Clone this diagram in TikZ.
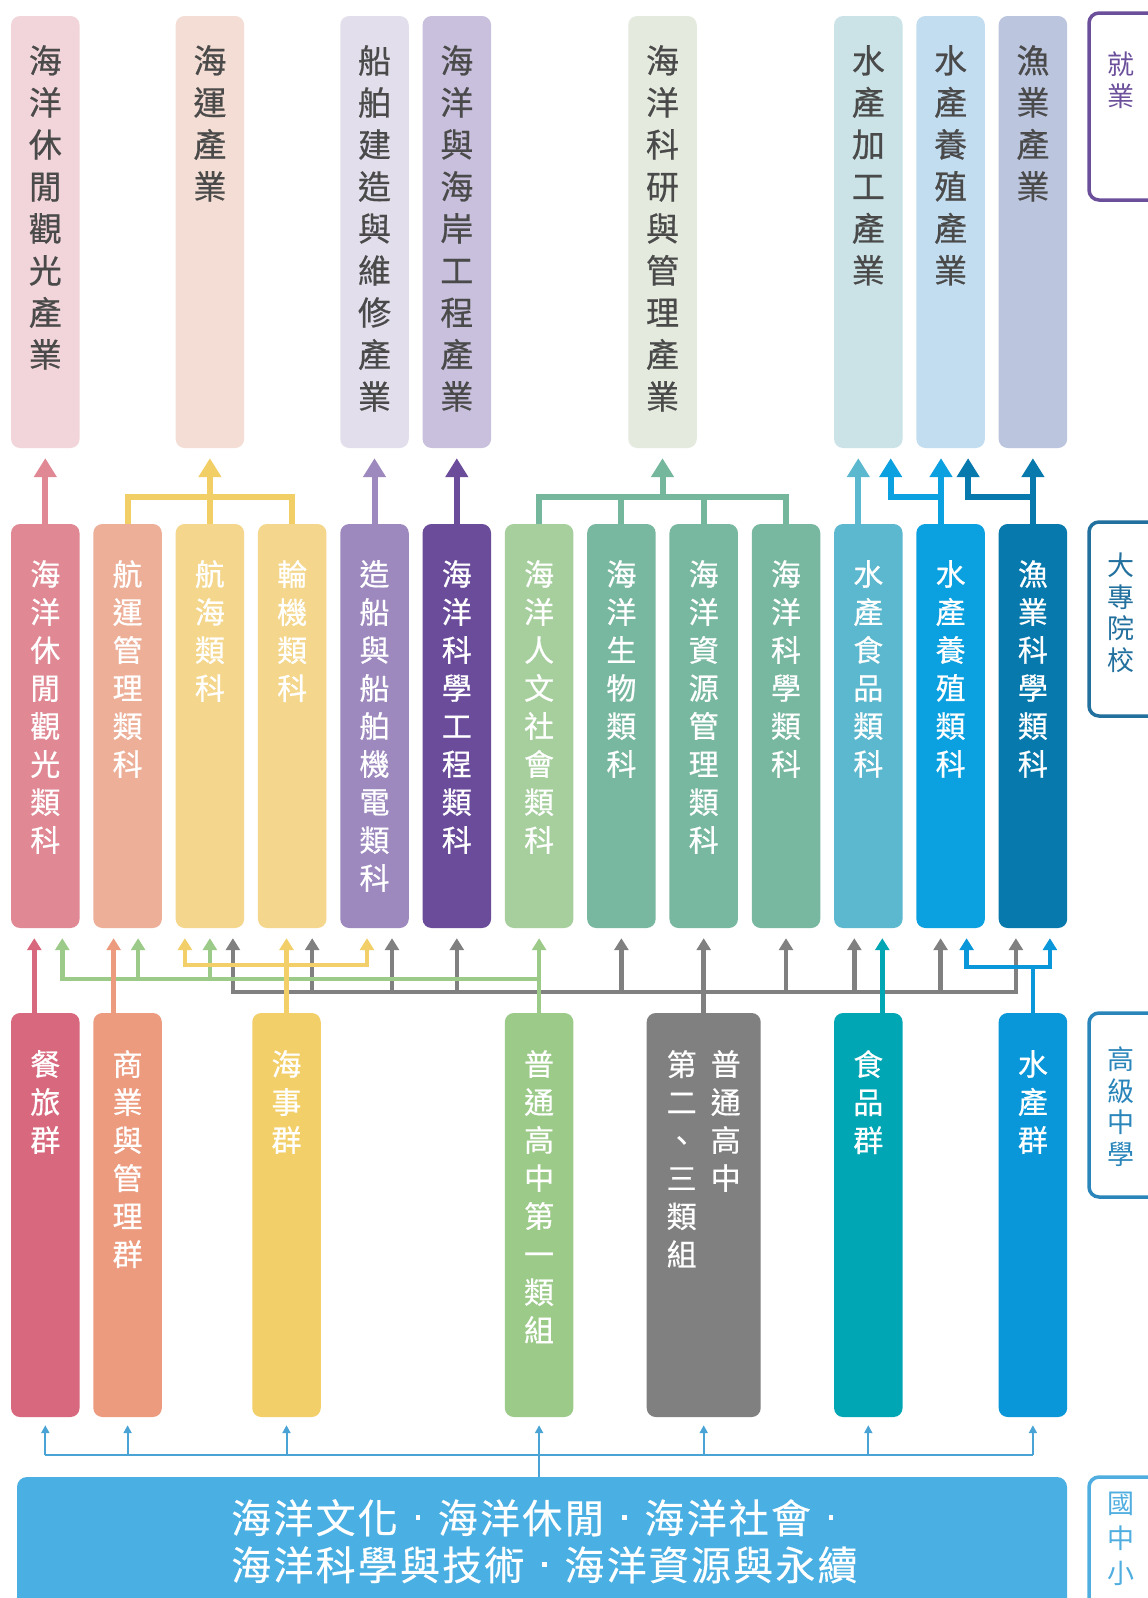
\documentclass[tikz,border=0pt]{standalone}
\usepackage{fontspec}
\newfontfamily\cjk{Noto Sans CJK TC}
\newfontfamily\cjkm[FakeBold=0.6]{Noto Sans CJK TC}
\newfontfamily\cjkw[LetterSpace=5.5,FakeBold=0.3]{Noto Sans CJK TC}
\usetikzlibrary{arrows.meta}
\definecolor{cT1}{HTML}{F2D5DA}
\definecolor{cT2}{HTML}{F4DDD4}
\definecolor{cT3}{HTML}{E3DEEB}
\definecolor{cT4}{HTML}{C8C0DC}
\definecolor{cT5}{HTML}{E4EBDE}
\definecolor{cT6}{HTML}{CBE3E7}
\definecolor{cT7}{HTML}{C3DDF0}
\definecolor{cT8}{HTML}{BBC5DE}
\definecolor{txtgray}{HTML}{4A4A4A}
\definecolor{cM1}{HTML}{E08894}
\definecolor{cM2}{HTML}{EDAF98}
\definecolor{cM3}{HTML}{F4D78C}
\definecolor{cM5}{HTML}{9D89BE}
\definecolor{cM6}{HTML}{6B4C9B}
\definecolor{cM7}{HTML}{A6CF9D}
\definecolor{cM8}{HTML}{78B8A0}
\definecolor{cM11}{HTML}{5CB8CF}
\definecolor{cM12}{HTML}{0BA0DF}
\definecolor{cM13}{HTML}{0779AC}
\definecolor{cB1}{HTML}{D8687D}
\definecolor{cB2}{HTML}{EC9B7F}
\definecolor{cB3}{HTML}{F2CF69}
\definecolor{cB7}{HTML}{9CCA89}
\definecolor{cB9}{HTML}{808080}
\definecolor{cB11}{HTML}{00A6B4}
\definecolor{cB13}{HTML}{0A97D9}
\definecolor{cG}{HTML}{4AAFE2}
\definecolor{cGl}{HTML}{4AA3D5}
\definecolor{yel}{HTML}{F2CF66}
\definecolor{grn}{HTML}{74B79C}
\definecolor{cL1}{HTML}{6B4F9B}
\definecolor{cL2}{HTML}{22709E}
\definecolor{cL3}{HTML}{2A86BA}
\definecolor{cL4}{HTML}{4FAEDF}
\def\vsEnd{}
\long\def\vgobble#1{}
\long\def\vfirst#1{#1}
\def\vs#1{\vsA#1\vsEnd}
\def\vsA#1{#1\vsB}
\def\vsB#1{\ifx#1\vsEnd\expandafter\vgobble\else\expandafter\vfirst\fi{\\#1\vsB}}
\newcommand\mdot{\makebox[1em]{\rule[0.34em]{4.5pt}{4.5pt}}}
\begin{document}
\begin{tikzpicture}[x=1pt,y=-1pt,
  box/.style={rectangle, rounded corners=9pt, minimum width=68.5pt, inner sep=0pt, draw=none},
  topbox/.style={box, minimum height=432pt},
  midbox/.style={box, minimum height=404pt},
  botbox/.style={box, minimum height=404pt},
  vt/.style={inner sep=0pt, align=center, anchor=north},
  toptxt/.style={vt, font=\cjkm\fontsize{33}{42}\selectfont, text=txtgray},
  midtxt/.style={vt, font=\cjkm\fontsize{30}{38}\selectfont, text=white},
  labbox/.style={rectangle, rounded corners=10pt, line width=3.5pt, minimum width=86pt, inner sep=0pt, fill=white},
  labtxt/.style={vt, font=\cjk\fontsize{27}{31.5}\selectfont},
  tline/.style={line width=6pt},
  tarr/.style={line width=6pt, -{Triangle[width=22pt,length=19pt]}, shorten >=10pt},
  bline/.style={line width=4.5pt},
  barr/.style={line width=4.5pt, -{Triangle[width=14pt,length=12pt]}, shorten >=10pt},
  fline/.style={line width=2pt, cGl},
  farr/.style={line width=2pt, cGl, -{Triangle[width=8pt,length=8pt]}, shorten >=8pt}
]
\useasboundingbox (0,0) rectangle (1148,1598);
\clip (0,0) rectangle (1148,1598);
\fill[white] (0,0) rectangle (1148,1598);

% ---- top row (jobs)
\node[topbox, fill=cT1] (T1) at (45.3,232) {};
\node[topbox, fill=cT2] (T2) at (209.9,232) {};
\node[topbox, fill=cT3] (T3) at (374.5,232) {};
\node[topbox, fill=cT4] (T4) at (456.8,232) {};
\node[topbox, fill=cT5] (T5) at (662.5,232) {};
\node[topbox, fill=cT6] (T6) at (868.3,232) {};
\node[topbox, fill=cT7] (T7) at (950.6,232) {};
\node[topbox, fill=cT8] (T8) at (1032.9,232) {};
\node[toptxt] (T1x) at (45.3,45) {\vs{海洋休閒觀光產業}};
\node[toptxt] (T2x) at (209.9,45) {\vs{海運產業}};
\node[toptxt] (T3x) at (374.5,45) {\vs{船舶建造與維修產業}};
\node[toptxt] (T4x) at (456.8,45) {\vs{海洋與海岸工程產業}};
\node[toptxt] (T5x) at (662.5,45) {\vs{海洋科研與管理產業}};
\node[toptxt] (T6x) at (868.3,45) {\vs{水產加工產業}};
\node[toptxt] (T7x) at (950.6,45) {\vs{水產養殖產業}};
\node[toptxt] (T8x) at (1032.9,45) {\vs{漁業產業}};

% ---- middle row (colleges)
\node[midbox, fill=cM1] (M1) at (45.3,726) {};
\node[midbox, fill=cM2] (M2) at (127.6,726) {};
\node[midbox, fill=cM3] (M3) at (209.9,726) {};
\node[midbox, fill=cM3] (M4) at (292.2,726) {};
\node[midbox, fill=cM5] (M5) at (374.5,726) {};
\node[midbox, fill=cM6] (M6) at (456.8,726) {};
\node[midbox, fill=cM7] (M7) at (539.1,726) {};
\node[midbox, fill=cM8] (M8) at (621.4,726) {};
\node[midbox, fill=cM8] (M9) at (703.7,726) {};
\node[midbox, fill=cM8] (M10) at (786.0,726) {};
\node[midbox, fill=cM11] (M11) at (868.3,726) {};
\node[midbox, fill=cM12] (M12) at (950.6,726) {};
\node[midbox, fill=cM13] (M13) at (1032.9,726) {};
\node[midtxt] (M1x) at (45.3,560) {\vs{海洋休閒觀光類科}};
\node[midtxt] (M2x) at (127.6,560) {\vs{航運管理類科}};
\node[midtxt] (M3x) at (209.9,560) {\vs{航海類科}};
\node[midtxt] (M4x) at (292.2,560) {\vs{輪機類科}};
\node[midtxt] (M5x) at (374.5,560) {\vs{造船與船舶機電類科}};
\node[midtxt] (M6x) at (456.8,560) {\vs{海洋科學工程類科}};
\node[midtxt] (M7x) at (539.1,560) {\vs{海洋人文社會類科}};
\node[midtxt] (M8x) at (621.4,560) {\vs{海洋生物類科}};
\node[midtxt] (M9x) at (703.7,560) {\vs{海洋資源管理類科}};
\node[midtxt] (M10x) at (786.0,560) {\vs{海洋科學類科}};
\node[midtxt] (M11x) at (868.3,560) {\vs{水產食品類科}};
\node[midtxt] (M12x) at (950.6,560) {\vs{水產養殖類科}};
\node[midtxt] (M13x) at (1032.9,560) {\vs{漁業科學類科}};

% ---- bottom row (senior high)
\node[botbox, fill=cB1] (B1) at (45.3,1215) {};
\node[botbox, fill=cB2] (B2) at (127.6,1215) {};
\node[botbox, fill=cB3] (B3) at (286.5,1215) {};
\node[botbox, fill=cB7] (B7) at (539.1,1215) {};
\node[botbox, fill=cB9, minimum width=114pt] (B9) at (703.7,1215) {};
\node[botbox, fill=cB11] (B11) at (868.3,1215) {};
\node[botbox, fill=cB13] (B13) at (1032.9,1215) {};
\node[midtxt] (B1x) at (45.3,1050) {\vs{餐旅群}};
\node[midtxt] (B2x) at (127.6,1050) {\vs{商業與管理群}};
\node[midtxt] (B3x) at (286.5,1050) {\vs{海事群}};
\node[midtxt] (B7x) at (539.1,1050) {\vs{普通高中第一類組}};
\node[midtxt] (B9a) at (725.7,1050) {\vs{普通高中}};
\node[midtxt] (B9b) at (681.7,1050) {\vs{第二、三類組}};
\node[midtxt] (B11x) at (868.3,1050) {\vs{食品群}};
\node[midtxt] (B13x) at (1032.9,1050) {\vs{水產群}};

% ---- big box
\node[rectangle, rounded corners=10pt, fill=cG, minimum width=1050pt, minimum height=150pt, inner sep=0pt] (G) at (542,1552) {};
\node[inner sep=0pt, anchor=north west, align=left, text=white, font=\cjkw\fontsize{40}{47}\selectfont] (Gx) at (231,1499) {海洋文化\mdot 海洋休閒\mdot 海洋社會\mdot\\海洋科學與技術\mdot 海洋資源與永續};

% ---- level labels
\node[labbox, draw=cL1, minimum height=187pt] (L1) at (1132,106.5) {};
\node[labtxt, text=cL1] (L1x) at (1121,52) {\vs{就業}};
\node[labbox, draw=cL2, minimum height=194pt] (L2) at (1132,619) {};
\node[labtxt, text=cL2] (L2x) at (1121,553) {\vs{大專院校}};
\node[labbox, draw=cL3, minimum height=184pt] (L3) at (1132,1105) {};
\node[labtxt, text=cL3] (L3x) at (1121,1047) {\vs{高級中學}};
\node[labbox, draw=cL4, minimum height=150pt] (L4) at (1132,1552) {};
\node[labtxt, text=cL4, font=\cjk\fontsize{27}{35}\selectfont] (L4x) at (1121,1492) {\vs{國中小}};

% ---- connectors college -> jobs
\coordinate (tb) at (0,497);
\draw[tarr, cM1] (M1.north) -- (T1.south);
\draw[tline, yel] (M2.north) |- (M4.north |- tb) -- (M4.north);
\draw[tarr, yel] (M3.north) -- (T2.south);
\draw[tarr, cM5] (M5.north) -- (T3.south);
\draw[tarr, cM6] (M6.north) -- (T4.south);
\draw[tline, grn] (M7.north) |- (M10.north |- tb) -- (M10.north);
\draw[tline, grn] (M8.north) -- (M8.north |- tb);
\draw[tline, grn] (M9.north) -- (M9.north |- tb);
\draw[tarr, grn] (T5.south |- tb) -- (T5.south);
\coordinate (q11) at ([xshift=-10pt]M11.north);
\coordinate (q12) at ([xshift=-9.6pt]M12.north);
\coordinate (q6) at ([xshift=22.4pt]T6.south);
\coordinate (q7) at ([xshift=17.5pt]T7.south);
\draw[tarr, cM11] (q11) -- (q11 |- T6.south);
\draw[tarr, cM12] (q12) -- (q12 |- T7.south);
\draw[tarr, cM12] (q12 |- tb) -| (q6);
\draw[tarr, cM13] (M13.north) -- (T8.south);
\draw[tarr, cM13] (M13.north |- tb) -| (q7);

% ---- connectors senior high -> college
\coordinate (kb) at (0,992);
\coordinate (gb) at (0,979);
\coordinate (yb) at (0,965);
\coordinate (ub) at (0,967);
% gray
\coordinate (k3) at ([xshift=23pt]M3.south);
\coordinate (k4) at ([xshift=20pt]M4.south);
\coordinate (k5) at ([xshift=17.5pt]M5.south);
\coordinate (k11) at ([xshift=-14pt]M11.south);
\coordinate (k12) at ([xshift=-10pt]M12.south);
\coordinate (k13) at ([xshift=-17pt]M13.south);
\draw[barr, cB9] (B9.north) -- (M9.south);
\draw[barr, cB9] (B9.north |- kb) -| (k3);
\draw[barr, cB9] (B9.north |- kb) -| (k13);
\draw[barr, cB9] (k4 |- kb) -- (k4);
\draw[barr, cB9] (k5 |- kb) -- (k5);
\draw[barr, cB9] (M6.south |- kb) -- (M6.south);
\draw[barr, cB9] (M8.south |- kb) -- (M8.south);
\draw[barr, cB9] (M10.south |- kb) -- (M10.south);
\draw[barr, cB9] (k11 |- kb) -- (k11);
\draw[barr, cB9] (k12 |- kb) -- (k12);
% green
\coordinate (g1) at ([xshift=17pt]M1.south);
\coordinate (g2) at ([xshift=10.5pt]M2.south);
\draw[barr, cB7] (B7.north) -- (M7.south);
\draw[barr, cB7] (B7.north |- gb) -| (g1);
\draw[barr, cB7] (g2 |- gb) -- (g2);
\draw[barr, cB7] (M3.south |- gb) -- (M3.south);
% yellow
\coordinate (y3) at ([xshift=-25pt]M3.south);
\coordinate (y5) at ([xshift=-7.5pt]M5.south);
\draw[barr, cB3] (B3.north) -- (B3.north |- M4.south);
\draw[barr, cB3] (B3.north |- yb) -| (y3);
\draw[barr, cB3] (B3.north |- yb) -| (y5);
% pink, salmon
\coordinate (p1) at ([xshift=-11pt]M1.south);
\coordinate (p2) at ([xshift=-14pt]M2.south);
\draw[barr, cB1] (p1 |- B1.north) -- (p1);
\draw[barr, cB2] (p2 |- B2.north) -- (p2);
% teal
\coordinate (f11) at ([xshift=14pt]M11.south);
\draw[barr, cB11] (f11 |- B11.north) -- (f11);
% blue
\coordinate (u12) at ([xshift=16pt]M12.south);
\coordinate (u13) at ([xshift=17pt]M13.south);
\draw[bline, cB13] (B13.north) -- (B13.north |- ub);
\draw[barr, cB13] (B13.north |- ub) -| (u12);
\draw[barr, cB13] (B13.north |- ub) -| (u13);

% ---- connectors base -> senior high
\coordinate (hb) at (0,1455);
\draw[fline] (B1.south |- hb) -- (B13.south |- hb);
\draw[farr] (B7.south |- G.north) -- (B7.south);
\draw[farr] (B1.south |- hb) -- (B1.south);
\draw[farr] (B2.south |- hb) -- (B2.south);
\draw[farr] (B3.south |- hb) -- (B3.south);
\draw[farr] (B9.south |- hb) -- (B9.south);
\draw[farr] (B11.south |- hb) -- (B11.south);
\draw[farr] (B13.south |- hb) -- (B13.south);
\end{tikzpicture}
\end{document}
